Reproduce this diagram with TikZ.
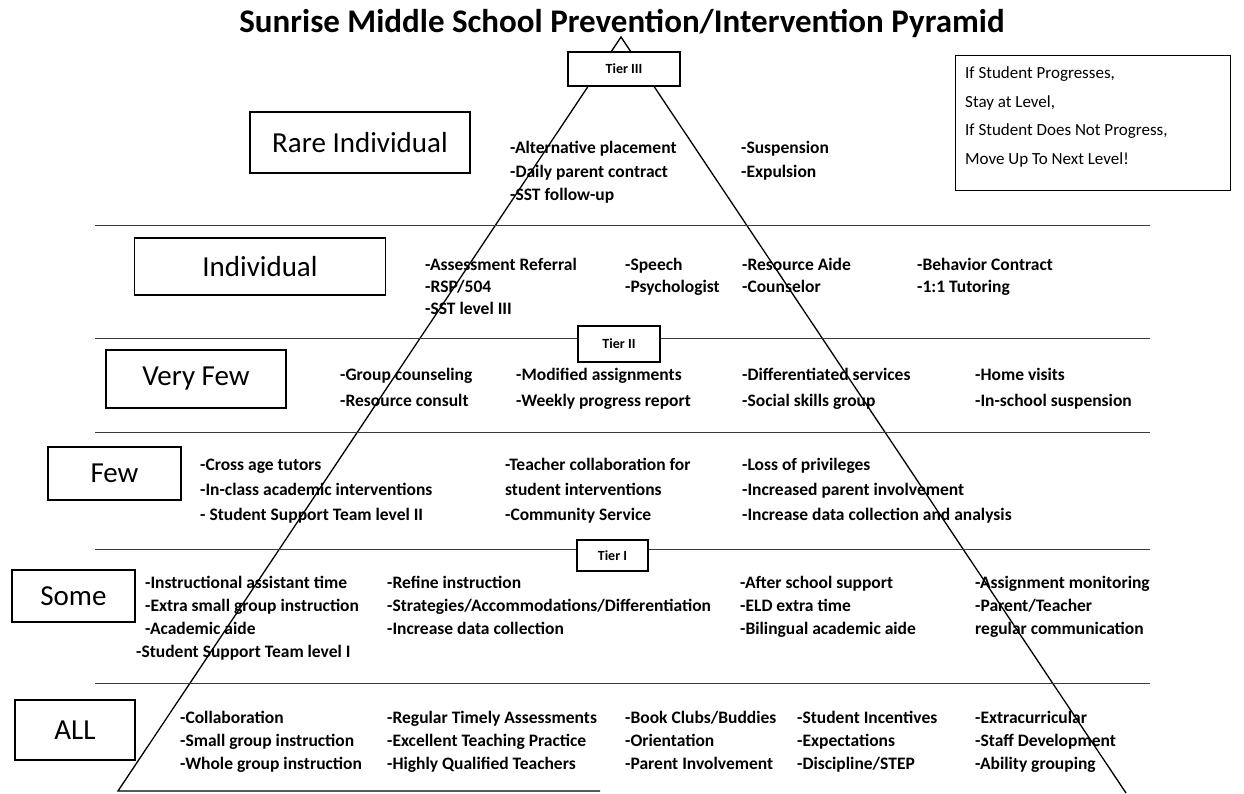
\documentclass[tikz,border=0pt]{standalone}
\usepackage{fontspec}
\setmainfont{Carlito}
\usetikzlibrary{positioning}
\definecolor{scangray}{HTML}{3A3A3A}

\begin{document}
\begin{tikzpicture}[x=1pt,y=-1pt,
  lvl/.style={draw,line width=1.1pt,font=\fontsize{29}{32}\selectfont,inner sep=0pt},
  tier/.style={draw,fill=white,line width=1.1pt,font=\fontsize{14}{16}\selectfont\bfseries,inner sep=0pt},
  item/.style={anchor=base west,inner sep=0pt,font=\fontsize{17.5}{20}\selectfont\bfseries},
  note/.style={anchor=base west,inner sep=0pt,font=\fontsize{17}{19}\selectfont}]
\useasboundingbox (0,0) rectangle (1244,793);

\coordinate (apex) at (621,37);
\coordinate (baseL) at (118,791);
\coordinate (baseR) at (1126,793);
\coordinate (baseM) at (600,791);
\draw[line width=1.3pt] (baseR) -- (apex) -- (baseL) -- (baseM);

\foreach \y in {225,338,432,549,683}
  \draw[scangray,line width=0.9pt] (95,\y) -- (1150,\y);

\node[font=\fontsize{33}{36}\selectfont\bfseries] (title) at (622,23) {Sunrise Middle School Prevention/Intervention Pyramid};

\node[tier,minimum width=112,minimum height=34] (t3) at (624,69) {Tier III};
\node[tier,minimum width=82,minimum height=36] (t2) at (619,344) {Tier II};
\node[tier,minimum width=71,minimum height=31] (t1) at (612.5,555.5) {Tier I};

\node[lvl,minimum width=220,minimum height=61] (rare) at (360,142.5) {Rare Individual};
\node[lvl,minimum width=251,minimum height=57] (indiv) at (260,266.5) {Individual};
\node[lvl,minimum width=180,minimum height=58] (veryfew) at (196,379) {Very Few};
\node[lvl,minimum width=133,minimum height=53] (few) at (114.5,473.5) {Few};
\node[lvl,minimum width=123,minimum height=52] (some) at (73.5,596) {Some};
\node[lvl,minimum width=120,minimum height=60] (all) at (75,730) {ALL};

\node[draw,line width=1.1pt,minimum width=275,minimum height=135,anchor=north west] (rule) at (955,55) {};
\foreach \t [count=\k] in {{If Student Progresses,},{Stay at Level,},{If Student Does Not Progress,},{Move Up To Next Level!}}
  \node[note] (note\k) at (965,{50+28.5*\k}) {\t};

\foreach \t [count=\k] in {-Alternative placement,-Daily parent contract,-SST follow-up}
  \node[item] (rareA\k) at (510,{130+23.5*\k}) {\t};
\foreach \t [count=\k] in {-Suspension,-Expulsion}
  \node[item] (rareB\k) at (741,{130+23.5*\k}) {\t};

\foreach \t [count=\k] in {-Assessment Referral,-RSP/504,-SST level III}
  \node[item] (indA\k) at (425,{248+22*\k}) {\t};
\foreach \t [count=\k] in {-Speech,-Psychologist}
  \node[item] (indB\k) at (625,{248+22*\k}) {\t};
\foreach \t [count=\k] in {-Resource Aide,-Counselor}
  \node[item] (indC\k) at (742,{248+22*\k}) {\t};
\foreach \t [count=\k] in {-Behavior Contract,-1:1 Tutoring}
  \node[item] (indD\k) at (917,{248+22*\k}) {\t};

\foreach \t [count=\k] in {-Group counseling,-Resource consult}
  \node[item] (vfA\k) at (340,{354+26*\k}) {\t};
\foreach \t [count=\k] in {-Modified assignments,-Weekly progress report}
  \node[item] (vfB\k) at (516,{354+26*\k}) {\t};
\foreach \t [count=\k] in {-Differentiated services,-Social skills group}
  \node[item] (vfC\k) at (742,{354+26*\k}) {\t};
\foreach \t [count=\k] in {-Home visits,-In-school suspension}
  \node[item] (vfD\k) at (975,{354+26*\k}) {\t};

\foreach \t [count=\k] in {-Cross age tutors,-In-class academic interventions,- Student Support Team level II}
  \node[item] (fewA\k) at (200,{445+25*\k}) {\t};
\foreach \t [count=\k] in {-Teacher collaboration for,student interventions,-Community Service}
  \node[item] (fewB\k) at (505,{445+25*\k}) {\t};
\foreach \t [count=\k] in {-Loss of privileges,-Increased parent involvement,-Increase data collection and analysis}
  \node[item] (fewC\k) at (742,{445+25*\k}) {\t};

\foreach \t [count=\k] in {-Instructional assistant time,-Extra small group instruction,-Academic aide}
  \node[item] (someA\k) at (145,{565+23*\k}) {\t};
\node[item] (someA4) at (136,657) {-Student Support Team level I};
\foreach \t [count=\k] in {-Refine instruction,-Strategies/Accommodations/Differentiation,-Increase data collection}
  \node[item] (someB\k) at (387,{565+23*\k}) {\t};
\foreach \t [count=\k] in {-After school support,-ELD extra time,-Bilingual academic aide}
  \node[item] (someC\k) at (740,{565+23*\k}) {\t};
\foreach \t [count=\k] in {-Assignment monitoring,-Parent/Teacher,regular communication}
  \node[item] (someD\k) at (975,{565+23*\k}) {\t};

\foreach \t [count=\k] in {-Collaboration,-Small group instruction,-Whole group instruction}
  \node[item] (allA\k) at (180,{700+23*\k}) {\t};
\foreach \t [count=\k] in {-Regular Timely Assessments,-Excellent Teaching Practice,-Highly Qualified Teachers}
  \node[item] (allB\k) at (387,{700+23*\k}) {\t};
\foreach \t [count=\k] in {-Book Clubs/Buddies,-Orientation,-Parent Involvement}
  \node[item] (allC\k) at (625,{700+23*\k}) {\t};
\foreach \t [count=\k] in {-Student Incentives,-Expectations,-Discipline/STEP}
  \node[item] (allD\k) at (797,{700+23*\k}) {\t};
\foreach \t [count=\k] in {-Extracurricular,-Staff Development,-Ability grouping}
  \node[item] (allE\k) at (975,{700+23*\k}) {\t};
\end{tikzpicture}
\end{document}
